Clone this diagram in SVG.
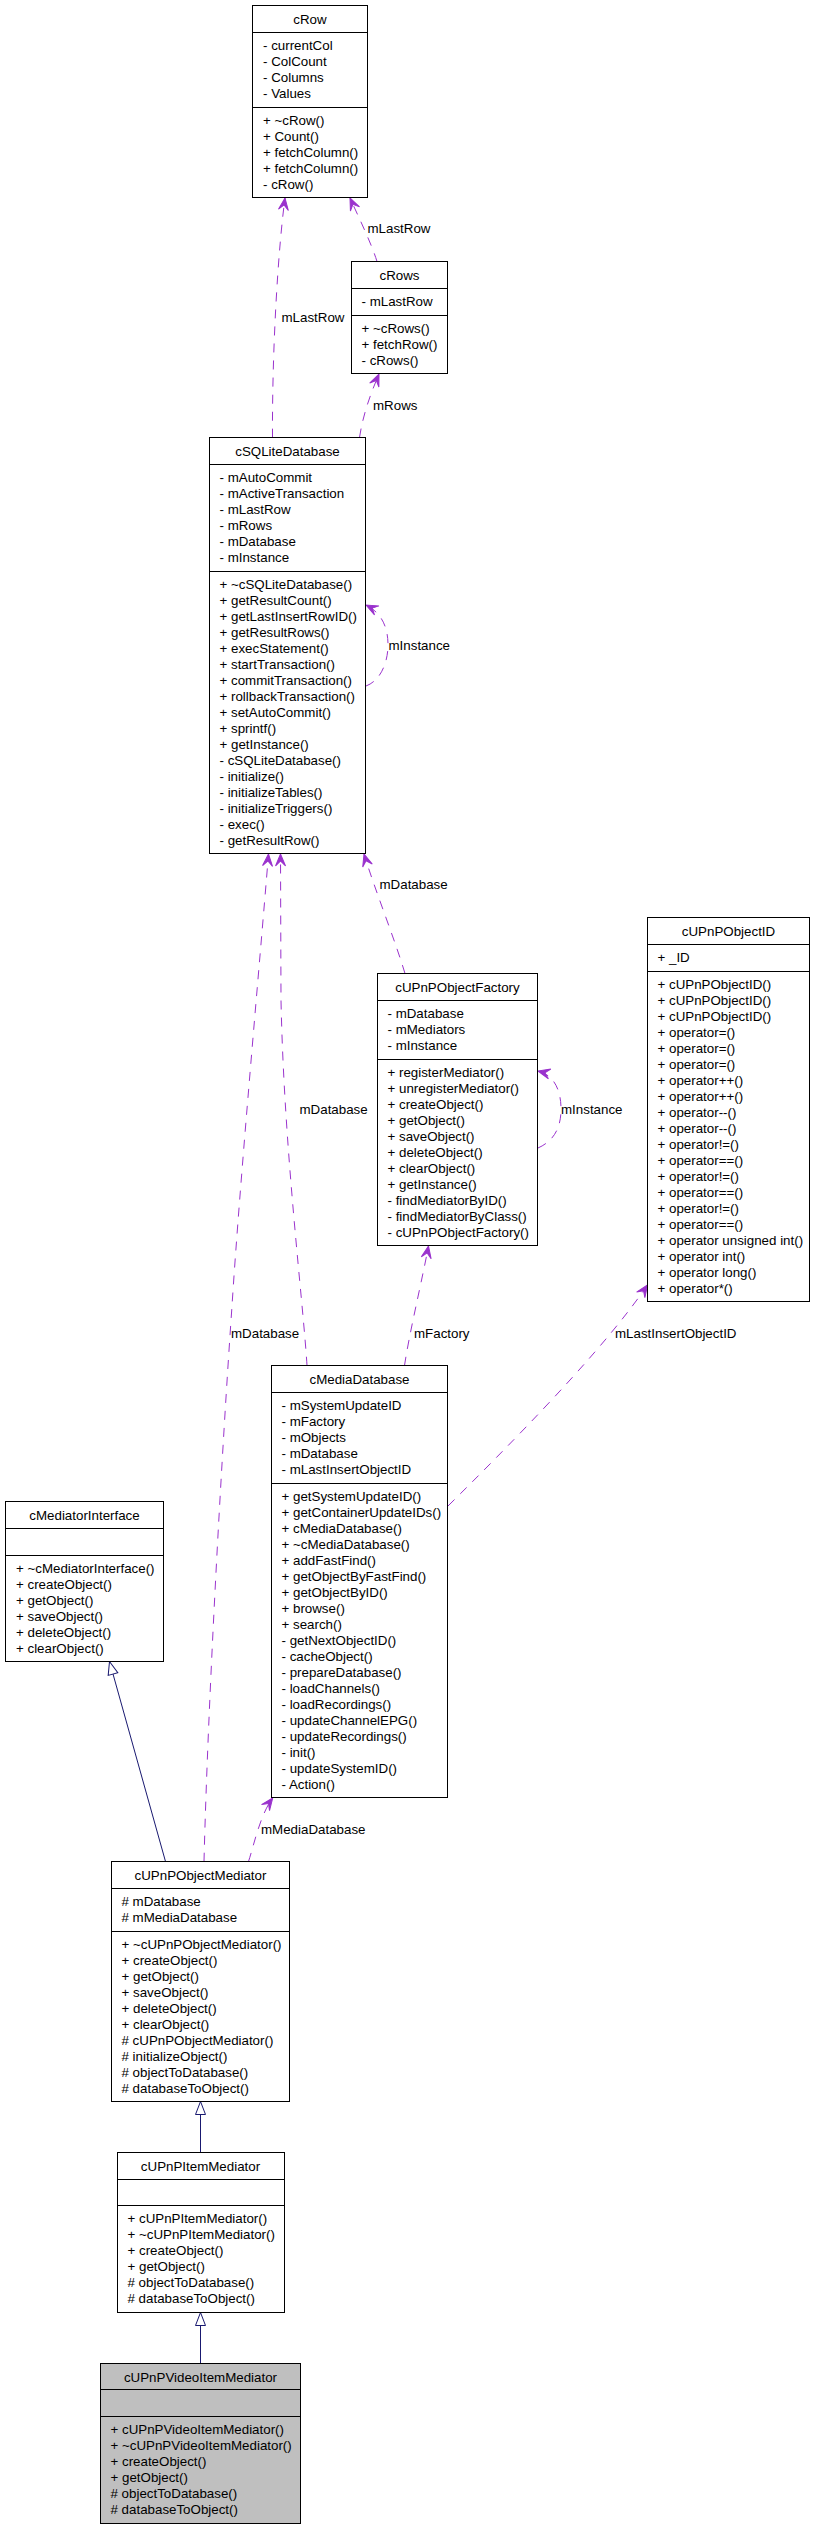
<svg xmlns="http://www.w3.org/2000/svg" width="815" height="2528" viewBox="0 0 815 2528">
<style>
.box{fill:#fff;stroke:#000;stroke-width:1}
.sel{fill:#bfbfbf;stroke:#000;stroke-width:1}
.sep{stroke:#000;stroke-width:1}
text{font-family:"Liberation Sans",Arial,Helvetica,sans-serif;font-size:13.33px;fill:#000}
.t{text-anchor:middle}
.dep{fill:none;stroke:#9a32cd;stroke-width:1;stroke-dasharray:9,8;marker-end:url(#vee)}
.inh{fill:none;stroke:#191970;stroke-width:1;marker-end:url(#tri)}
</style>
<defs>
<marker id="vee" viewBox="-14 -7 15 14" refX="0" refY="0" markerWidth="15" markerHeight="14" orient="auto" markerUnits="userSpaceOnUse">
<path d="M0,0 L-12,-5 L-7,0 L-12,5 Z" fill="#9a32cd" stroke="#9a32cd" stroke-width="1" stroke-dasharray="none"/>
</marker>
<marker id="tri" viewBox="-15 -7 16 14" refX="0" refY="0" markerWidth="16" markerHeight="14" orient="auto" markerUnits="userSpaceOnUse">
<path d="M0,0 L-13,-5 L-13,5 Z" fill="#fff" stroke="#191970" stroke-width="1"/>
</marker>
</defs>
<rect width="815" height="2528" fill="#fff"/>

<g id="connectors">
<path class="dep" d="M272.5,437.5 C272,350 278,250 285,198"/>
<path class="dep" d="M377,261.5 C372,245 360,220 350,198"/>
<path class="dep" d="M359.5,437.5 C363,415 370,395 379,374"/>
<path class="dep" d="M366,686 C382,680 388,660 388,645 C388,625 380,612 366,605"/>
<path class="dep" d="M405,973.5 C395,940 375,890 364,854"/>
<path class="dep" d="M538,1148 C556,1140 561,1125 561,1109 C561,1090 554,1075 538,1071"/>
<path class="dep" d="M404.5,1365.5 C410,1330 420,1290 428.5,1246"/>
<path class="dep" d="M448,1506 C540,1415 610,1340 647.5,1285"/>
<path class="dep" d="M307,1365.5 C303,1300 284,1150 281,1000 L280.5,854"/>
<path class="dep" d="M204,1861.5 C208,1700 222,1450 232,1306 C240,1180 260,960 268.5,854"/>
<path class="dep" d="M248.5,1861.5 C254,1845 260,1815 272.7,1798"/>
<path class="inh" d="M165.5,1861.5 L109.5,1661.5"/>
<path class="inh" d="M200.5,2152.5 L200.5,2101.5"/>
<path class="inh" d="M200.5,2363.5 L200.5,2312.5"/>
<text x="281.5" y="321.5">mLastRow</text>
<text x="367.5" y="233">mLastRow</text>
<text x="373" y="409.5">mRows</text>
<text x="388.5" y="650">mInstance</text>
<text x="379.5" y="889">mDatabase</text>
<text x="561" y="1114">mInstance</text>
<text x="299.5" y="1113.5">mDatabase</text>
<text x="414" y="1337.5">mFactory</text>
<text x="615" y="1337.5">mLastInsertObjectID</text>
<text x="231" y="1337.5">mDatabase</text>
<text x="261" y="1833.5">mMediaDatabase</text>
</g>

<g id="cRow">
<rect class="box" x="252.5" y="5.5" width="115" height="192"/>
<line class="sep" x1="252.5" y1="32.5" x2="367.5" y2="32.5"/>
<line class="sep" x1="252.5" y1="107.5" x2="367.5" y2="107.5"/>
<text class="t" x="310" y="24">cRow</text>
<text x="263"><tspan x="263" y="49.5">- currentCol</tspan><tspan x="263" dy="16">- ColCount</tspan><tspan x="263" dy="16">- Columns</tspan><tspan x="263" dy="16">- Values</tspan></text>
<text x="263"><tspan x="263" y="124.5">+ ~cRow()</tspan><tspan x="263" dy="16">+ Count()</tspan><tspan x="263" dy="16">+ fetchColumn()</tspan><tspan x="263" dy="16">+ fetchColumn()</tspan><tspan x="263" dy="16">- cRow()</tspan></text>
</g>

<g id="cRows">
<rect class="box" x="351.5" y="261.5" width="96" height="112"/>
<line class="sep" x1="351.5" y1="288.5" x2="447.5" y2="288.5"/>
<line class="sep" x1="351.5" y1="315.5" x2="447.5" y2="315.5"/>
<text class="t" x="399.5" y="280">cRows</text>
<text x="361.5" y="305.5">- mLastRow</text>
<text x="361.5"><tspan x="361.5" y="332.5">+ ~cRows()</tspan><tspan x="361.5" dy="16">+ fetchRow()</tspan><tspan x="361.5" dy="16">- cRows()</tspan></text>
</g>

<g id="cSQLiteDatabase">
<rect class="box" x="209.5" y="437.5" width="156" height="416"/>
<line class="sep" x1="209.5" y1="464.5" x2="365.5" y2="464.5"/>
<line class="sep" x1="209.5" y1="571.5" x2="365.5" y2="571.5"/>
<text class="t" x="287.5" y="456">cSQLiteDatabase</text>
<text x="219.5"><tspan x="219.5" y="481.5">- mAutoCommit</tspan><tspan x="219.5" dy="16">- mActiveTransaction</tspan><tspan x="219.5" dy="16">- mLastRow</tspan><tspan x="219.5" dy="16">- mRows</tspan><tspan x="219.5" dy="16">- mDatabase</tspan><tspan x="219.5" dy="16">- mInstance</tspan></text>
<text x="219.5"><tspan x="219.5" y="588.5">+ ~cSQLiteDatabase()</tspan><tspan x="219.5" dy="16">+ getResultCount()</tspan><tspan x="219.5" dy="16">+ getLastInsertRowID()</tspan><tspan x="219.5" dy="16">+ getResultRows()</tspan><tspan x="219.5" dy="16">+ execStatement()</tspan><tspan x="219.5" dy="16">+ startTransaction()</tspan><tspan x="219.5" dy="16">+ commitTransaction()</tspan><tspan x="219.5" dy="16">+ rollbackTransaction()</tspan><tspan x="219.5" dy="16">+ setAutoCommit()</tspan><tspan x="219.5" dy="16">+ sprintf()</tspan><tspan x="219.5" dy="16">+ getInstance()</tspan><tspan x="219.5" dy="16">- cSQLiteDatabase()</tspan><tspan x="219.5" dy="16">- initialize()</tspan><tspan x="219.5" dy="16">- initializeTables()</tspan><tspan x="219.5" dy="16">- initializeTriggers()</tspan><tspan x="219.5" dy="16">- exec()</tspan><tspan x="219.5" dy="16">- getResultRow()</tspan></text>
</g>

<g id="cUPnPObjectFactory">
<rect class="box" x="377.5" y="973.5" width="160" height="272"/>
<line class="sep" x1="377.5" y1="1000.5" x2="537.5" y2="1000.5"/>
<line class="sep" x1="377.5" y1="1059.5" x2="537.5" y2="1059.5"/>
<text class="t" x="457.5" y="992">cUPnPObjectFactory</text>
<text x="387.5"><tspan x="387.5" y="1017.5">- mDatabase</tspan><tspan x="387.5" dy="16">- mMediators</tspan><tspan x="387.5" dy="16">- mInstance</tspan></text>
<text x="387.5"><tspan x="387.5" y="1076.5">+ registerMediator()</tspan><tspan x="387.5" dy="16">+ unregisterMediator()</tspan><tspan x="387.5" dy="16">+ createObject()</tspan><tspan x="387.5" dy="16">+ getObject()</tspan><tspan x="387.5" dy="16">+ saveObject()</tspan><tspan x="387.5" dy="16">+ deleteObject()</tspan><tspan x="387.5" dy="16">+ clearObject()</tspan><tspan x="387.5" dy="16">+ getInstance()</tspan><tspan x="387.5" dy="16">- findMediatorByID()</tspan><tspan x="387.5" dy="16">- findMediatorByClass()</tspan><tspan x="387.5" dy="16">- cUPnPObjectFactory()</tspan></text>
</g>

<g id="cUPnPObjectID">
<rect class="box" x="647.5" y="917.5" width="162" height="384"/>
<line class="sep" x1="647.5" y1="944.5" x2="809.5" y2="944.5"/>
<line class="sep" x1="647.5" y1="971.5" x2="809.5" y2="971.5"/>
<text class="t" x="728.5" y="936">cUPnPObjectID</text>
<text x="657.5" y="961.5">+ _ID</text>
<text x="657.5"><tspan x="657.5" y="988.5">+ cUPnPObjectID()</tspan><tspan x="657.5" dy="16">+ cUPnPObjectID()</tspan><tspan x="657.5" dy="16">+ cUPnPObjectID()</tspan><tspan x="657.5" dy="16">+ operator=()</tspan><tspan x="657.5" dy="16">+ operator=()</tspan><tspan x="657.5" dy="16">+ operator=()</tspan><tspan x="657.5" dy="16">+ operator++()</tspan><tspan x="657.5" dy="16">+ operator++()</tspan><tspan x="657.5" dy="16">+ operator--()</tspan><tspan x="657.5" dy="16">+ operator--()</tspan><tspan x="657.5" dy="16">+ operator!=()</tspan><tspan x="657.5" dy="16">+ operator==()</tspan><tspan x="657.5" dy="16">+ operator!=()</tspan><tspan x="657.5" dy="16">+ operator==()</tspan><tspan x="657.5" dy="16">+ operator!=()</tspan><tspan x="657.5" dy="16">+ operator==()</tspan><tspan x="657.5" dy="16">+ operator unsigned int()</tspan><tspan x="657.5" dy="16">+ operator int()</tspan><tspan x="657.5" dy="16">+ operator long()</tspan><tspan x="657.5" dy="16">+ operator*()</tspan></text>
</g>

<g id="cMediaDatabase">
<rect class="box" x="271.5" y="1365.5" width="176" height="432"/>
<line class="sep" x1="271.5" y1="1392.5" x2="447.5" y2="1392.5"/>
<line class="sep" x1="271.5" y1="1483.5" x2="447.5" y2="1483.5"/>
<text class="t" x="359.5" y="1384">cMediaDatabase</text>
<text x="281.5"><tspan x="281.5" y="1409.5">- mSystemUpdateID</tspan><tspan x="281.5" dy="16">- mFactory</tspan><tspan x="281.5" dy="16">- mObjects</tspan><tspan x="281.5" dy="16">- mDatabase</tspan><tspan x="281.5" dy="16">- mLastInsertObjectID</tspan></text>
<text x="281.5"><tspan x="281.5" y="1500.5">+ getSystemUpdateID()</tspan><tspan x="281.5" dy="16">+ getContainerUpdateIDs()</tspan><tspan x="281.5" dy="16">+ cMediaDatabase()</tspan><tspan x="281.5" dy="16">+ ~cMediaDatabase()</tspan><tspan x="281.5" dy="16">+ addFastFind()</tspan><tspan x="281.5" dy="16">+ getObjectByFastFind()</tspan><tspan x="281.5" dy="16">+ getObjectByID()</tspan><tspan x="281.5" dy="16">+ browse()</tspan><tspan x="281.5" dy="16">+ search()</tspan><tspan x="281.5" dy="16">- getNextObjectID()</tspan><tspan x="281.5" dy="16">- cacheObject()</tspan><tspan x="281.5" dy="16">- prepareDatabase()</tspan><tspan x="281.5" dy="16">- loadChannels()</tspan><tspan x="281.5" dy="16">- loadRecordings()</tspan><tspan x="281.5" dy="16">- updateChannelEPG()</tspan><tspan x="281.5" dy="16">- updateRecordings()</tspan><tspan x="281.5" dy="16">- init()</tspan><tspan x="281.5" dy="16">- updateSystemID()</tspan><tspan x="281.5" dy="16">- Action()</tspan></text>
</g>

<g id="cMediatorInterface">
<rect class="box" x="5.5" y="1501.5" width="158" height="160"/>
<line class="sep" x1="5.5" y1="1528.5" x2="163.5" y2="1528.5"/>
<line class="sep" x1="5.5" y1="1555.5" x2="163.5" y2="1555.5"/>
<text class="t" x="84.5" y="1520">cMediatorInterface</text>
<text x="16"><tspan x="16" y="1572.5">+ ~cMediatorInterface()</tspan><tspan x="16" dy="16">+ createObject()</tspan><tspan x="16" dy="16">+ getObject()</tspan><tspan x="16" dy="16">+ saveObject()</tspan><tspan x="16" dy="16">+ deleteObject()</tspan><tspan x="16" dy="16">+ clearObject()</tspan></text>
</g>

<g id="cUPnPObjectMediator">
<rect class="box" x="111.5" y="1861.5" width="178" height="240"/>
<line class="sep" x1="111.5" y1="1888.5" x2="289.5" y2="1888.5"/>
<line class="sep" x1="111.5" y1="1931.5" x2="289.5" y2="1931.5"/>
<text class="t" x="200.5" y="1880">cUPnPObjectMediator</text>
<text x="121.5"><tspan x="121.5" y="1905.5"># mDatabase</tspan><tspan x="121.5" dy="16"># mMediaDatabase</tspan></text>
<text x="121.5"><tspan x="121.5" y="1948.5">+ ~cUPnPObjectMediator()</tspan><tspan x="121.5" dy="16">+ createObject()</tspan><tspan x="121.5" dy="16">+ getObject()</tspan><tspan x="121.5" dy="16">+ saveObject()</tspan><tspan x="121.5" dy="16">+ deleteObject()</tspan><tspan x="121.5" dy="16">+ clearObject()</tspan><tspan x="121.5" dy="16"># cUPnPObjectMediator()</tspan><tspan x="121.5" dy="16"># initializeObject()</tspan><tspan x="121.5" dy="16"># objectToDatabase()</tspan><tspan x="121.5" dy="16"># databaseToObject()</tspan></text>
</g>

<g id="cUPnPItemMediator">
<rect class="box" x="117.5" y="2152.5" width="167" height="160"/>
<line class="sep" x1="117.5" y1="2179.5" x2="284.5" y2="2179.5"/>
<line class="sep" x1="117.5" y1="2205.5" x2="284.5" y2="2205.5"/>
<text class="t" x="200.5" y="2171">cUPnPItemMediator</text>
<text x="127.5"><tspan x="127.5" y="2222.5">+ cUPnPItemMediator()</tspan><tspan x="127.5" dy="16">+ ~cUPnPItemMediator()</tspan><tspan x="127.5" dy="16">+ createObject()</tspan><tspan x="127.5" dy="16">+ getObject()</tspan><tspan x="127.5" dy="16"># objectToDatabase()</tspan><tspan x="127.5" dy="16"># databaseToObject()</tspan></text>
</g>

<g id="cUPnPVideoItemMediator">
<rect class="sel" x="100.5" y="2363.5" width="200" height="160"/>
<line class="sep" x1="100.5" y1="2389.5" x2="300.5" y2="2389.5"/>
<line class="sep" x1="100.5" y1="2416.5" x2="300.5" y2="2416.5"/>
<text class="t" x="200.5" y="2382">cUPnPVideoItemMediator</text>
<text x="110.5"><tspan x="110.5" y="2433.5">+ cUPnPVideoItemMediator()</tspan><tspan x="110.5" dy="16">+ ~cUPnPVideoItemMediator()</tspan><tspan x="110.5" dy="16">+ createObject()</tspan><tspan x="110.5" dy="16">+ getObject()</tspan><tspan x="110.5" dy="16"># objectToDatabase()</tspan><tspan x="110.5" dy="16"># databaseToObject()</tspan></text>
</g>
</svg>
